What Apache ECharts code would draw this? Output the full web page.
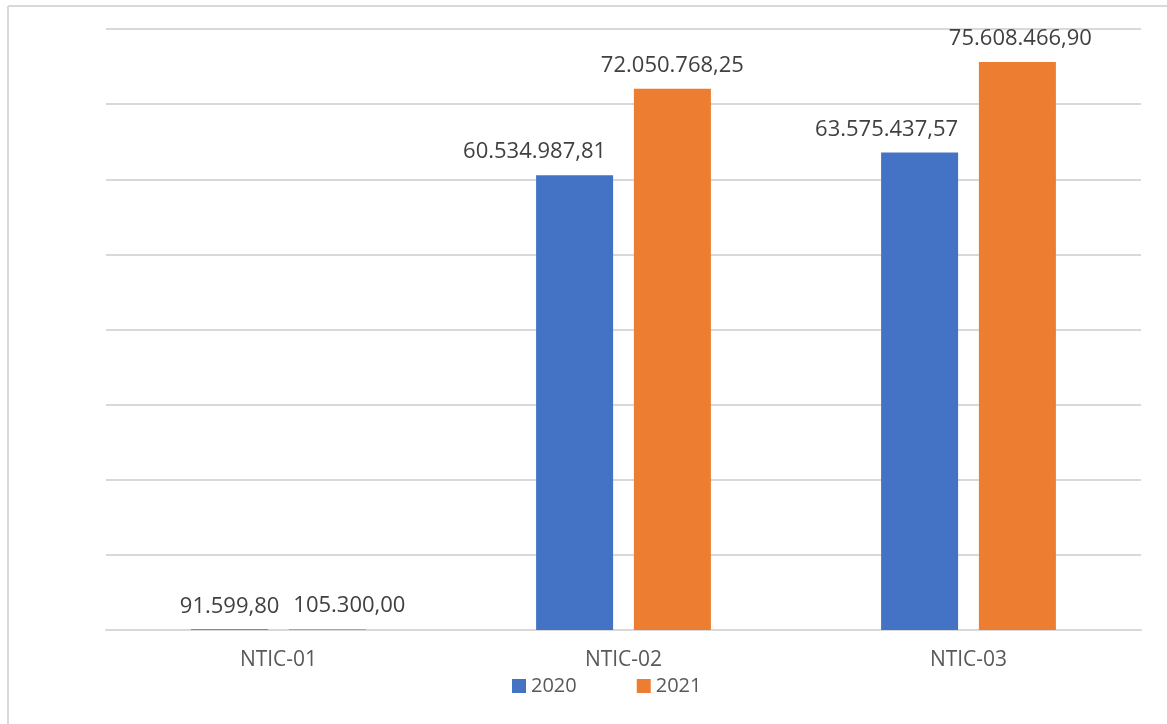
<!DOCTYPE html>
<html><head><meta charset="utf-8">
<script src="https://cdn.jsdelivr.net/npm/echarts@6/dist/echarts.min.js"></script>
<style>html,body{margin:0;padding:0;background:#fff}#c{width:1167px;height:724px}</style>
</head><body><div id="c"></div>
<script>
const categories = ['NTIC-01', 'NTIC-02', 'NTIC-03'];
const seriesNames = ['2020', '2021'];
const values2020 = [91599.80, 60534987.81, 63575437.57];
const values2021 = [105300.00, 72050768.25, 75608466.90];
const labels2020 = ['91.599,80', '60.534.987,81', '63.575.437,57'];
const labels2021 = ['105.300,00', '72.050.768,25', '75.608.466,90'];
const colors = ['#4472C4', '#ED7D31'];
// horizontal nudges of the data labels (style only)
const labelShift2020 = [0, -40, -33];
const labelShift2021 = [22, 0, 3];

const chart = echarts.init(document.getElementById('c'));
const font = '"Open Sans", "Noto Sans", sans-serif';
function mk(name, vals, labs, shifts, color) {
  return {
    name, type: 'bar', barWidth: 77, barGap: '27%',
    data: vals.map((v, i) => ({ value: v, label: { offset: [shifts[i], 0] } })),
    itemStyle: { color },
    label: { show: true, position: 'top', distance: 12, color: '#404040', fontSize: 22, fontFamily: font,
      formatter: p => labs[p.dataIndex] }
  };
}
chart.setOption({
  animation: false,
  graphic: [
    { type: 'line', shape: { x1: 8, y1: 6, x2: 1167, y2: 6 }, style: { stroke: '#d9d9d9', lineWidth: 2 } },
    { type: 'line', shape: { x1: 8, y1: 6, x2: 8, y2: 724 }, style: { stroke: '#d9d9d9', lineWidth: 2 } }
  ],
  grid: { left: 106, right: 26, top: 29, bottom: 94, containLabel: false },
  legend: {
    top: 671, left: 507, itemWidth: 14, itemHeight: 14, itemGap: 60,
    icon: 'rect', data: seriesNames,
    textStyle: { color: '#595959', fontSize: 20, fontFamily: font }
  },
  xAxis: {
    type: 'category', data: categories,
    axisLine: { lineStyle: { color: '#d9d9d9', width: 2 } },
    axisTick: { show: false },
    axisLabel: { color: '#595959', fontSize: 21, fontFamily: font, margin: 20 }
  },
  yAxis: {
    type: 'value', min: 0, max: 80000000, interval: 10000000,
    axisLabel: { show: false }, axisLine: { show: false }, axisTick: { show: false },
    splitLine: { lineStyle: { color: '#d9d9d9', width: 2 } }
  },
  series: [
    mk(seriesNames[0], values2020, labels2020, labelShift2020, colors[0]),
    mk(seriesNames[1], values2021, labels2021, labelShift2021, colors[1])
  ]
});
</script></body></html>
